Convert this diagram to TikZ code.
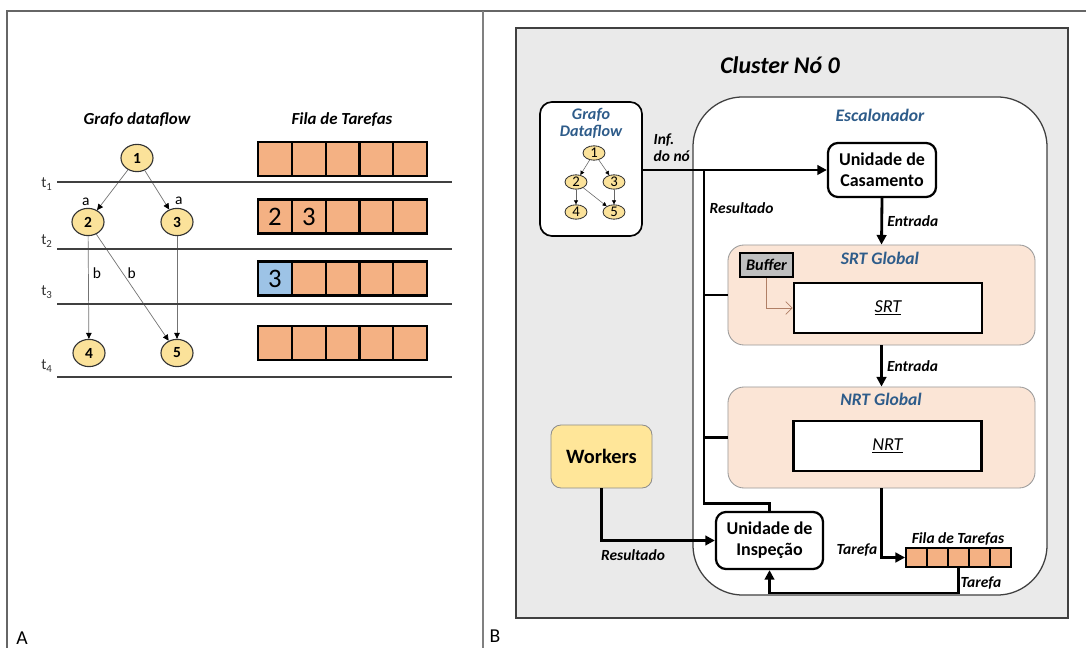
\documentclass[tikz,border=0pt]{standalone}
\usepackage{fontspec}
\setmainfont{Carlito}
\usetikzlibrary{arrows.meta,positioning,calc,shapes.geometric}

\definecolor{nodeyel}{HTML}{FBE29A}
\definecolor{cellorg}{HTML}{F4B183}
\definecolor{cellblue}{HTML}{9DC3E6}
\definecolor{titleblue}{HTML}{2E5C8A}
\definecolor{peach}{HTML}{FBE5D6}
\definecolor{panelgray}{HTML}{EAEAEA}
\definecolor{wkyel}{HTML}{FFE699}
\definecolor{bufgray}{HTML}{BFBFBF}
\definecolor{bufline}{HTML}{B07F66}

\begin{document}
\begin{tikzpicture}[
    x=0.025cm, y=-0.025cm,
    dnode/.style={ellipse, draw=black!80, fill=nodeyel, line width=0.8pt, minimum width=0.8cm, minimum height=0.68cm, inner sep=0pt, font=\fontsize{11}{11}\selectfont\bfseries},
    snode/.style={ellipse, draw=black!80, fill=nodeyel, line width=0.6pt, minimum width=0.55cm, minimum height=0.36cm, inner sep=0pt, font=\fontsize{10.5}{10}\selectfont},
    aedge/.style={draw=black!55, line width=0.5pt, -{Triangle[length=1.5mm,width=1.4mm,color=black]}},
    sedge/.style={draw=black!60, line width=0.4pt, -{Triangle[length=1mm,width=1mm,color=black]}},
    lab/.style={font=\fontsize{11}{11}\selectfont, inner sep=1pt},
    tlab/.style={font=\fontsize{11}{11}\selectfont, text=black!80},
    tline/.style={draw=black!75, line width=1.3pt},
    cell/.style={rectangle, draw=black, fill=cellorg, line width=1.6pt, minimum width=0.845cm, minimum height=0.85cm, inner sep=0pt, font=\fontsize{19}{19}\selectfont},
    scell/.style={rectangle, draw=black, fill=cellorg, line width=1.3pt, minimum width=0.525cm, minimum height=0.475cm, inner sep=0pt},
    head/.style={font=\fontsize{12}{13}\selectfont\bfseries\itshape},
    lbl/.style={font=\fontsize{11}{12}\selectfont\bfseries\itshape, inner sep=1pt},
    btitle/.style={text=titleblue, font=\fontsize{12.5}{13}\selectfont\bfseries\itshape, align=center},
    unit/.style={rectangle, rounded corners=0.25cm, draw=black, fill=white, line width=1.6pt, align=center, font=\fontsize{12.8}{15}\selectfont\bfseries},
    global/.style={rectangle, rounded corners=0.4cm, draw=black!40, fill=peach, line width=0.6pt, minimum width=7.675cm, minimum height=2.5cm},
    table/.style={rectangle, draw=black, fill=white, line width=1.8pt, minimum width=4.7cm, minimum height=1.25cm, font=\fontsize{13}{13}\selectfont\itshape},
    flow/.style={line width=2pt, -{Triangle[length=2.4mm,width=2.4mm]}},
    bus/.style={line width=2pt}
]
    \useasboundingbox (0,0) rectangle (1086,648);

    \draw[black!60, line width=0.8pt] (7,648) -- (7,11) -- (1086,11);
    \draw[black!50, line width=0.8pt] (483,11) -- (483,648);
    \node[font=\fontsize{14}{14}\selectfont] (pa) at (22,638) {A};
    \node[font=\fontsize{14}{14}\selectfont] (pb) at (495,636) {B};

    % painel A
    \node[head] (gtitle) at (137,120) {Grafo dataflow};
    \node[head] (ftitle) at (342,120) {Fila de Tarefas};

    \node[dnode] (n1) at (137,158) {1};
    \node[dnode] (n2) at (88,222) {2};
    \node[dnode] (n3) at (177,222) {3};
    \node[dnode] (n4) at (89,353) {4};
    \node[dnode] (n5) at (177,353) {5};

    \draw[aedge] (n1) -- (n2) node[lab, pos=0.93, above left, xshift=-0.2cm] {a};
    \draw[aedge] (n1) -- (n3) node[lab, pos=0.93, above right, xshift=0.15cm] {a};
    \draw[aedge] (n2) -- (n4) node[lab, pos=0.36, right=2pt] {b};
    \draw[aedge] (n2) -- (n5) node[lab, pos=0.37, right=2pt] {b};
    \draw[aedge] (n3) -- (n5);

    \foreach \i/\y/\ty in {1/182/184, 2/249/241, 3/304/292, 4/377/366} {
        \node[tlab] (t\i) at (47,\ty) {t\textsubscript{\i}};
        \draw[tline] (57,\y) -- (452,\y);
    }

    \foreach \r/\y in {1/159, 2/216.5, 3/278.5, 4/343} {
        \foreach \i in {1,...,5}
            \node[cell] (q\r\i) at (258+17+33.8*\i-33.8,\y) {};
    }
    \node[cell] at (q21) {2};
    \node[cell] at (q22) {3};
    \node[cell, fill=cellblue] at (q31) {3};

    % painel B
    \node[rectangle, draw=black!75, fill=panelgray, line width=0.9pt, minimum width=13.8cm, minimum height=14.75cm] (clbox) at (792,323) {};
    \node[font=\fontsize{17}{17}\selectfont\bfseries\itshape] (cltitle) at (780,65) {Cluster Nó 0};

    \node[rectangle, rounded corners=1.25cm, draw=black!75, fill=white, line width=0.9pt, minimum width=8.85cm, minimum height=12.45cm] (esc) at (870,346) {};
    \node[btitle] (esctitle) at (880,115) {Escalonador};

    \node[rectangle, rounded corners=0.3cm, draw=black, fill=white, line width=1.2pt, minimum width=2.55cm, minimum height=3.35cm] (grafo) at (591,169) {};
    \node[btitle, font=\fontsize{11.5}{12}\selectfont\bfseries\itshape] (grtitle) at (591,123) {Grafo\\Dataflow};
    \node[snode] (g1) at (594,153) {1};
    \node[snode] (g2) at (576,182) {2};
    \node[snode] (g3) at (614,182) {3};
    \node[snode] (g4) at (576,212) {4};
    \node[snode] (g5) at (614,212) {5};
    \draw[sedge] (g1) -- (g2);
    \draw[sedge] (g1) -- (g3);
    \draw[sedge] (g2) -- (g4);
    \draw[sedge] (g2) -- (g5);
    \draw[sedge] (g3) -- (g5);

    \node[unit, minimum width=2.7cm, minimum height=1.35cm] (cas) at (882,170) {Unidade de\\Casamento};
    \node[global] (srtg) at (881.5,295) {};
    \node[btitle] (srtgt) at (880,258) {SRT Global};
    \node[table] (srt) at (888,308) {\underline{SRT}};
    \node[rectangle, draw=black, fill=bufgray, line width=1.5pt, minimum width=1.325cm, minimum height=0.6cm, inner sep=0pt, font=\fontsize{11.5}{11}\selectfont\bfseries\itshape] (buf) at (766.5,265) {Buffer};

    \node[global, minimum height=2.525cm] (nrtg) at (881.5,437.5) {};
    \node[btitle] (nrtgt) at (881,399) {NRT Global};
    \node[table] (nrt) at (887.5,446) {\underline{NRT}};

    \node[unit, minimum width=2.675cm, minimum height=1.425cm] (insp) at (769.5,540.5) {Unidade de\\Inspeção};
    \node[rectangle, rounded corners=0.25cm, draw=black!45, fill=wkyel, line width=0.6pt, minimum width=2.525cm, minimum height=1.575cm, font=\fontsize{14.5}{14}\selectfont\bfseries] (wk) at (601.5,456.5) {Workers};

    \foreach \i in {1,...,5}
        \node[scell] (f\i) at (906+10.5+21*\i-21,557.5) {};
    \node[lbl, anchor=south] (ftit) at (958,550) {\underline{Fila de Tarefas}};

    \coordinate (bustop) at (704,170);
    \draw[flow] (grafo.east |- cas.west) -- (cas.west);
    \node[lbl, anchor=south west, align=left] (inf) at (652,163) {Inf.\\do nó};
    \draw[bus] (insp.north) -- ++(0,-7) -| (bustop);
    \draw[bus] (bustop |- srtg.west) -- (srtg.west);
    \draw[bus] (bustop |- nrtg.west) -- (nrtg.west);
    \node[lbl, anchor=west] (res1) at (708,208) {Resultado};

    \draw[flow] (cas.south) -- (srtg.north) node[lbl, midway, right=2pt] {Entrada};
    \draw[flow] (srtg.south) -- (nrtg.north) node[lbl, midway, right=2pt] {Entrada};
    \draw[draw=bufline, line width=0.6pt, -{Straight Barb[length=1.6mm]}] (buf.south) |- (srt.west);

    \draw[flow] (wk.south) |- (insp.west);
    \node[lbl] (res2) at (633,555) {Resultado};

    \draw[flow] (nrtg.south) |- (f1.west);
    \node[lbl, anchor=east] (tar1) at (879,550) {Tarefa};
    \draw[flow] (f3.south) -- ++(0,25) -| (insp.south);
    \node[lbl] (tar2) at (981,583) {Tarefa};
\end{tikzpicture}
\end{document}
